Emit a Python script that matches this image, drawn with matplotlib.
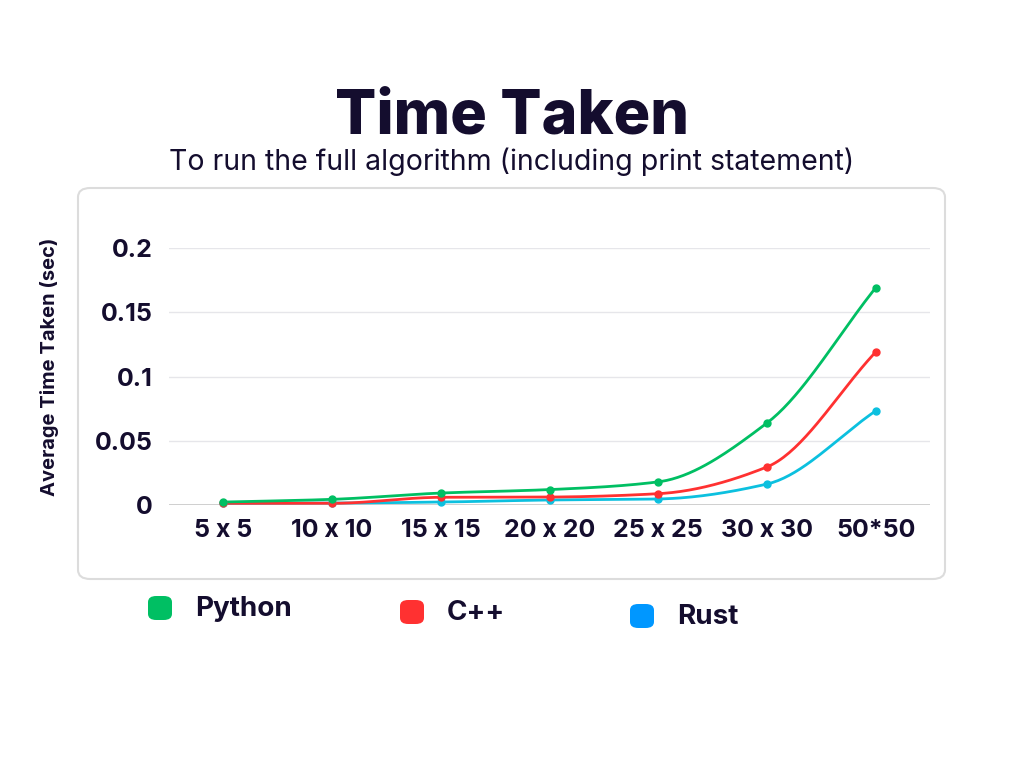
import numpy as np
import matplotlib
matplotlib.use("Agg")
import matplotlib.pyplot as plt
from matplotlib.patches import FancyBboxPatch

categories = ["5 x 5", "10 x 10", "15 x 15", "20 x 20", "25 x 25", "30 x 30", "50*50"]
python_vals = [0.0023, 0.0044, 0.0093, 0.0120, 0.0180, 0.0638, 0.1690]
cpp_vals = [0.0013, 0.0013, 0.0060, 0.0062, 0.0088, 0.0296, 0.1190]
rust_vals = [0.0013, 0.0015, 0.0023, 0.0039, 0.0047, 0.0163, 0.0732]
series_names = ["Python", "C++", "Rust"]
yticks = [0, 0.05, 0.1, 0.15, 0.2]
ytick_labels = ["0", "0.05", "0.1", "0.15", "0.2"]

line_colors = ["#00bf63", "#ff3131", "#0cc0df"]
legend_colors = ["#00bf63", "#ff3131", "#0097ff"]
TXT = "#140d2e"
FONT = ["Inter", "DejaVu Sans"]
plt.rcParams['font.family'] = FONT


def smooth(xs, ys, n=40):
    """Monotone cubic (Fritsch-Carlson) for drawing a smooth line."""
    xs = np.asarray(xs, float); ys = np.asarray(ys, float)
    h = np.diff(xs); d = np.diff(ys) / h
    m = np.zeros_like(ys)
    m[0] = d[0]; m[-1] = d[-1]
    for i in range(1, len(ys) - 1):
        if d[i - 1] * d[i] <= 0:
            m[i] = 0
        else:
            m[i] = 2 / (1 / d[i - 1] + 1 / d[i])
    X, Y = [], []
    for i in range(len(xs) - 1):
        t = np.linspace(0, 1, n)
        h00 = 2 * t**3 - 3 * t**2 + 1
        h10 = t**3 - 2 * t**2 + t
        h01 = -2 * t**3 + 3 * t**2
        h11 = t**3 - t**2
        X.append(xs[i] + t * h[i])
        Y.append(h00 * ys[i] + h10 * h[i] * m[i] + h01 * ys[i + 1] + h11 * h[i] * m[i + 1])
    return np.concatenate(X), np.concatenate(Y)


fig = plt.figure(figsize=(10.24, 7.68), dpi=100)
fig.patch.set_facecolor("white")

# card
card = FancyBboxPatch((78 / 1024, 1 - 579 / 768), (945 - 78) / 1024, (579 - 188) / 768,
                      boxstyle="round,pad=0,rounding_size=0.012", transform=fig.transFigure,
                      facecolor="white", edgecolor="#dcdcdc", linewidth=1.5, zorder=-5)
fig.patches.append(card)

ax = fig.add_axes([169 / 1024, 1 - 505 / 768, (930 - 169) / 1024, (505 - 248) / 768])
ax.set_zorder(2)
ax.set_facecolor("none")
x = np.arange(len(categories))
for vals, c in zip([rust_vals, cpp_vals, python_vals], [line_colors[2], line_colors[1], line_colors[0]]):
    sx, sy = smooth(x, vals)
    ax.plot(sx, sy, color=c, lw=2, zorder=3, solid_capstyle="round", clip_on=False)
    ax.plot(x, vals, "o", color=c, ms=5, zorder=4, clip_on=False)

ax.set_xlim(-0.5, len(categories) - 0.5)
ax.set_ylim(0, 0.2)
ax.set_yticks(yticks)
ax.set_yticklabels(ytick_labels)
ax.set_xticks(x)
ax.set_xticklabels(categories)
ax.grid(axis="y", color="#e6e6ea", lw=1)
ax.set_axisbelow(True)
ax.axhline(0, color="#c8c8c8", lw=1.2, zorder=2)
for s in ax.spines.values():
    s.set_visible(False)
ax.tick_params(length=0)
ax.tick_params(axis="y", pad=12, labelsize=18, labelcolor=TXT)
ax.tick_params(axis="x", pad=10, labelsize=18, labelcolor=TXT)
for lbl in ax.get_xticklabels() + ax.get_yticklabels():
    lbl.set_fontweight("bold")

fig.text(50 / 1024, 1 - 367 / 768, "Average Time Taken (sec)", rotation=90, ha="center", va="center",
         fontsize=14.5, fontweight="bold", color=TXT)

fig.text(512 / 1024, 1 - 111 / 768, "Time Taken", ha="center", va="center_baseline", fontsize=44,
         fontweight="heavy", color=TXT)
fig.text(512 / 1024, 1 - 162 / 768, "To run the full algorithm (including print statement)",
         ha="center", va="center", fontsize=20.5, color=TXT)

leg_x = [160, 412, 642]
leg_y = [608, 612, 616]
for name, c, lx, ly in zip(series_names, legend_colors, leg_x, leg_y):
    w, hgt = 24 / 1024, 24 / 768
    p = FancyBboxPatch((lx / 1024 - w / 2, 1 - ly / 768 - hgt / 2), w, hgt,
                       boxstyle="round,pad=0,rounding_size=0.008", transform=fig.transFigure,
                       facecolor=c, edgecolor="none")
    fig.patches.append(p)
    fig.text((lx + 35) / 1024, 1 - (ly + 1) / 768, name, ha="left", va="center", fontsize=20,
             fontweight="bold", color=TXT)

fig.savefig("out.png", dpi=100, facecolor="white")
